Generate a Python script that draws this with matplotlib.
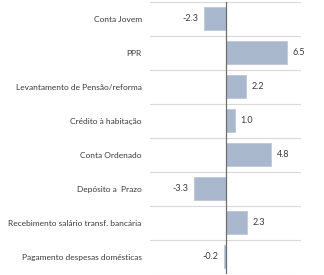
import matplotlib.pyplot as plt
import numpy as np

categories = [
    "Conta Jovem",
    "PPR",
    "Levantamento de Pensão/reforma",
    "Crédito à habitação",
    "Conta Ordenado",
    "Depósito a  Prazo",
    "Recebimento salário transf. bancária",
    "Pagamento despesas domésticas",
]
values = [-2.3, 6.5, 2.2, 1.0, 4.8, -3.3, 2.3, -0.2]

bar_color = "#a9b8cc"
text_color = "#3a3a3a"

plt.rcParams["font.family"] = ["Lato", "DejaVu Sans"]

fig = plt.figure(figsize=(3.24, 2.75), dpi=100)
ax = fig.add_axes([0.463, 0.004, 0.466, 0.989])

y = np.arange(len(categories))
ax.barh(y, values, height=0.68, color=bar_color, edgecolor="#b8c5d6", linewidth=0.5, zorder=2)

for yi, v in zip(y, values):
    if v >= 0:
        ax.text(v + 0.6, yi, f"{v:.1f}", va="center", ha="left", fontsize=6.5, color=text_color)
    else:
        ax.text(v - 0.6, yi, f"{v:.1f}", va="center", ha="right", fontsize=6.5, color=text_color)

ax.set_xlim(-8, 8)
ax.set_ylim(len(categories) - 0.5, -0.5)
ax.set_yticks(y)
ax.set_yticklabels(categories, fontsize=6, color=text_color)
ax.tick_params(axis="y", length=0, pad=6)
ax.set_xticks([])

# horizontal separators between categories
ax.set_yticks(np.arange(-0.5, len(categories) + 0.5, 1), minor=True)
ax.tick_params(axis="y", which="minor", length=0)
ax.grid(axis="y", which="minor", color="#d9d9d9", linewidth=0.8, zorder=0)

ax.axvline(0, color="#6e6e6e", linewidth=0.9, zorder=3)
for s in ax.spines.values():
    s.set_visible(False)

fig.savefig("out.png", dpi=100)
